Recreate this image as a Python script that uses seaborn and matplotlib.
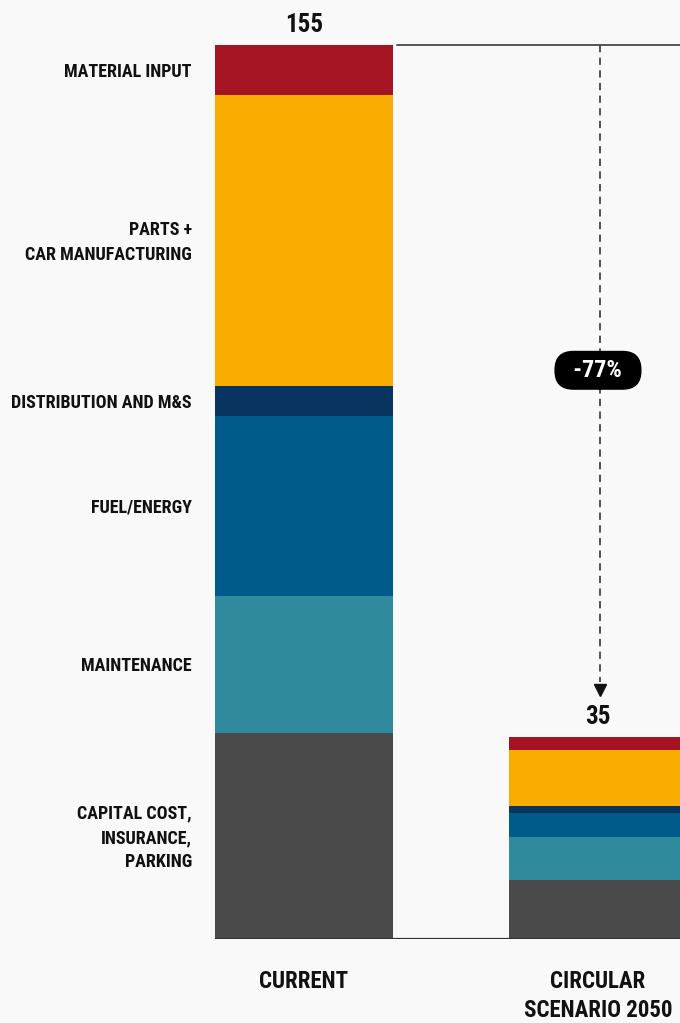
import matplotlib
matplotlib.use("Agg")
import matplotlib.pyplot as plt
import seaborn as sns
import pandas as pd
import numpy as np

# data
scenarios = ["CURRENT", "CIRCULAR\nSCENARIO 2050"]
components = ["MATERIAL INPUT", "PARTS +\nCAR MANUFACTURING", "DISTRIBUTION AND M&S",
              "FUEL/ENERGY", "MAINTENANCE", "CAPITAL COST,\nINSURANCE,\nPARKING"]
current_vals = [8.7, 50.4, 5.2, 31.2, 23.8, 35.7]
circular_vals = [2.3, 9.7, 1.2, 4.2, 7.3, 10.3]
totals = [155, 35]
colors = ["#A51422", "#F9AC00", "#0A3460", "#005B8A", "#2F8B9C", "#4A4A4A"]

BG = "#F9F9F9"
sns.set_theme(style="white")
plt.rcParams["font.family"] = ["Roboto Condensed", "DejaVu Sans"]
plt.rcParams["font.weight"] = "bold"

fig = plt.figure(figsize=(6.8, 10.23), dpi=100, facecolor=BG)
ax = fig.add_axes([215 / 680, 84 / 1023, 465 / 680, 939 / 1023])
ax.set_facecolor(BG)

bar_w = 0.605
df = pd.DataFrame({"scenario": scenarios})
cur = np.array(current_vals)
circ = np.array(circular_vals)
# cumulative tops, from full stack down to bottom segment
for i, comp in enumerate(components):
    df["top"] = [cur[i:].sum(), circ[i:].sum()]
    sns.barplot(data=df, x="scenario", y="top", color=colors[i], saturation=1,
                width=bar_w, linewidth=0, errorbar=None, ax=ax)

ax.set_xlim(-bar_w / 2, 1.279)
ax.set_ylim(0, 162.8)
for s in ax.spines.values():
    s.set_visible(False)
ax.set_yticks([])
ax.set_xlabel("")
ax.set_ylabel("")
ax.tick_params(axis="x", length=0, pad=22, labelsize=16.5, labelcolor="#111111")
for lbl in ax.get_xticklabels():
    lbl.set_fontweight("bold")
    lbl.set_linespacing(1.35)

# baseline and reference line at the current total
ax.axhline(0, color="#333333", lw=1.6, zorder=5)
ax.axhline(totals[0], xmin=(397 - 215) / 465, xmax=1, color="#555555", lw=1.4)

# component labels beside the first bar
tops = np.cumsum(cur[::-1])[::-1]
for comp, top, v in zip(components, tops, cur):
    ax.annotate(comp, xy=(-bar_w / 2, top - v / 2), xytext=(-23, -2),
                textcoords="offset pixels", ha="right", va="center",
                fontsize=13, fontweight="bold", color="#111111", linespacing=1.45)

# totals on top of the bars
for x, t in enumerate(totals):
    ax.annotate(str(t), xy=(x, t), xytext=(0, 6), textcoords="offset points",
                ha="center", va="bottom", fontsize=18, fontweight="bold", color="#111111")

# dashed arrow showing the reduction
ax.plot([1.007, 1.007], [totals[0], 44.5], color="#444444", lw=1.3, ls=(0, (4, 3)))
ax.plot([1.007], [43.2], marker="v", markersize=9, color="#111111", clip_on=False)

pct = round((totals[1] - totals[0]) / totals[0] * 100)
ax.text(1.0, 98.6, f"  {pct}%  ", ha="center", va="center", fontsize=17.5,
        fontweight="bold", color="white",
        bbox=dict(boxstyle="round,pad=0.3,rounding_size=0.75", fc="black", ec="black"))

fig.savefig("out.png", dpi=100, facecolor=BG)
